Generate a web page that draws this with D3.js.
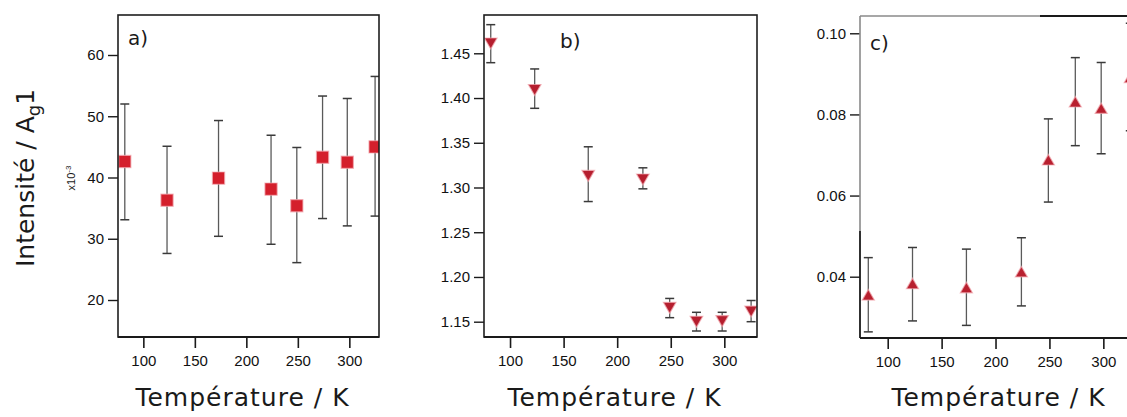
<!DOCTYPE html>
<html>
<head>
<meta charset="utf-8">
<script src="https://cdn.jsdelivr.net/npm/d3@7"></script>
<style>
  html, body { margin: 0; padding: 0; background: #fff; }
  svg { display: block; }
  .tick-label { font-family: "Liberation Sans Narrow", "Liberation Sans", Arial, sans-serif; font-size: 15px; fill: #111; }
  .axis-title { font-family: "DejaVu Sans", sans-serif; font-size: 25px; fill: #1a1a1a; }
  .panel-tag { font-family: "DejaVu Sans", sans-serif; font-size: 20px; fill: #1a1a1a; }
</style>
</head>
<body>
<svg id="chart" width="1127" height="417"></svg>
<script>
// Temperatures (K) shared by the three panels
const temperatures = [82, 123, 173, 224, 249, 274, 298, 325];
const xTicks = [100, 150, 200, 250, 300];

// a) intensity (x10^-3) with lower / upper error bounds
const intensityA = [42.6, 36.3, 39.9, 38.1, 35.4, 43.3, 42.5, 45.0];
const lowerA     = [33.1, 27.6, 30.4, 29.1, 26.1, 33.3, 32.1, 33.7];
const upperA     = [52.0, 45.1, 49.3, 46.9, 44.9, 53.3, 52.9, 56.5];
const yTicksA    = [20, 30, 40, 50, 60];

// b) ratio
const intensityB = [1.463, 1.411, 1.315, 1.311, 1.1675, 1.152, 1.1527, 1.1634];
const lowerB     = [1.4395, 1.3885, 1.2843, 1.2985, 1.1545, 1.1396, 1.1396, 1.150];
const upperB     = [1.482, 1.4325, 1.3455, 1.322, 1.176, 1.1605, 1.1605, 1.1737];
const yTicksB    = [1.15, 1.20, 1.25, 1.30, 1.35, 1.40, 1.45];

// c) ratio
const intensityC = [0.0351, 0.0379, 0.0369, 0.0408, 0.0684, 0.0827, 0.0811, 0.0887];
const lowerC     = [0.0264, 0.0291, 0.0280, 0.0328, 0.0584, 0.0723, 0.0703, 0.0760];
const upperC     = [0.0447, 0.0472, 0.0468, 0.0496, 0.0789, 0.0940, 0.0928, 0.1025];
const yTicksC    = [0.04, 0.06, 0.08, 0.10];

const svg = d3.select("#chart");

const panels = [
  { id: "a", tag: "a)", tagX: 128, tagY: 45,
    box: { left: 118, top: 15, right: 379, bottom: 337 },
    xDomain: [75.4, 328.8], yDomain: [13.96, 66.53],
    values: intensityA, lower: lowerA, upper: upperA, yTicks: yTicksA,
    fmt: d3.format("d"), symbol: d3.symbolSquare, size: 150, rotate: 0,
    fill: "#d41f2c" },
  { id: "b", tag: "b)", tagX: 560, tagY: 48,
    box: { left: 484, top: 15, right: 757, bottom: 337 },
    xDomain: [75.7, 330.5], yDomain: [1.1329, 1.4928],
    values: intensityB, lower: lowerB, upper: upperB, yTicks: yTicksB,
    fmt: d3.format(".2f"), symbol: d3.symbolTriangle, size: 70, rotate: 180,
    fill: "#b51e2e" },
  { id: "c", tag: "c)", tagX: 870, tagY: 50,
    box: { left: 860, top: 16, right: 1140, bottom: 338 },
    xDomain: [74.3, 334.0], yDomain: [0.02489, 0.10426],
    values: intensityC, lower: lowerC, upper: upperC, yTicks: yTicksC,
    fmt: d3.format(".2f"), symbol: d3.symbolTriangle, size: 64, rotate: 0,
    fill: "#b8202f" }
];

panels.forEach(p => {
  const b = p.box;
  const x = d3.scaleLinear().domain(p.xDomain).range([b.left, b.right]);
  const y = d3.scaleLinear().domain(p.yDomain).range([b.bottom, b.top]);
  const g = svg.append("g").attr("class", "panel-" + p.id);

  // clip marks to the plot frame
  svg.append("clipPath").attr("id", "clip-" + p.id)
    .append("rect")
    .attr("x", b.left).attr("y", b.top)
    .attr("width", b.right - b.left).attr("height", b.bottom - b.top);

  // y axis: outward ticks with labels
  const yAxis = d3.axisLeft(y).tickValues(p.yTicks).tickFormat(p.fmt)
    .tickSize(10).tickPadding(4);
  const ya = g.append("g").attr("transform", `translate(${b.left},0)`).call(yAxis);
  ya.select(".domain").remove();
  ya.selectAll(".tick line").attr("stroke", "#1a1a1a").attr("stroke-width", 1.4);
  ya.selectAll(".tick text").attr("class", "tick-label").attr("font-family", null).attr("font-size", null);

  // x axis
  const xAxis = d3.axisBottom(x).tickValues(xTicks).tickFormat(d3.format("d"))
    .tickSize(11).tickPadding(7);
  const xa = g.append("g").attr("transform", `translate(0,${b.bottom})`).call(xAxis);
  xa.select(".domain").remove();
  xa.selectAll(".tick line").attr("stroke", "#1a1a1a").attr("stroke-width", 1.6);
  xa.selectAll(".tick text").attr("class", "tick-label").attr("font-family", null).attr("font-size", null);

  // error bars
  const marks = g.append("g").attr("clip-path", `url(#clip-${p.id})`);
  const bars = marks.selectAll("g.err").data(temperatures).join("g").attr("class", "err");
  bars.append("line")
    .attr("x1", d => x(d)).attr("x2", d => x(d))
    .attr("y1", (d, i) => y(p.lower[i])).attr("y2", (d, i) => y(p.upper[i]))
    .attr("stroke", "#5a5a5a").attr("stroke-width", 1.3);
  [p.lower, p.upper].forEach(arr => {
    bars.append("line")
      .attr("x1", d => x(d) - 4.5).attr("x2", d => x(d) + 4.5)
      .attr("y1", (d, i) => y(arr[i])).attr("y2", (d, i) => y(arr[i]))
      .attr("stroke", "#3a3a3a").attr("stroke-width", 1.5);
  });

  // markers
  marks.selectAll("path.pt").data(temperatures).join("path").attr("class", "pt")
    .attr("d", d3.symbol().type(p.symbol).size(p.size))
    .attr("transform", (d, i) => `translate(${x(d)},${y(p.values[i])}) rotate(${p.rotate})`)
    .attr("fill", p.fill)
    .attr("stroke", "#f2a9b0").attr("stroke-width", 1.2).attr("stroke-opacity", 0.7);

  // frame
  const frame = g.append("g").attr("fill", "none");
  if (p.id === "c") {
    frame.append("line").attr("x1", b.left).attr("x2", 1040).attr("y1", b.top).attr("y2", b.top)
      .attr("stroke", "#8a8a8a").attr("stroke-width", 1.6);
    frame.append("line").attr("x1", 1040).attr("x2", b.right).attr("y1", b.top).attr("y2", b.top)
      .attr("stroke", "#1a1a1a").attr("stroke-width", 1.8);
    frame.append("line").attr("x1", b.left).attr("x2", b.left).attr("y1", b.top).attr("y2", 231)
      .attr("stroke", "#8a8a8a").attr("stroke-width", 1.6);
    frame.append("line").attr("x1", b.left).attr("x2", b.left).attr("y1", 231).attr("y2", b.bottom)
      .attr("stroke", "#1a1a1a").attr("stroke-width", 1.8);
    frame.append("line").attr("x1", b.left).attr("x2", b.right).attr("y1", b.bottom).attr("y2", b.bottom)
      .attr("stroke", "#1a1a1a").attr("stroke-width", 2.2);
  } else {
    frame.append("rect")
      .attr("x", b.left).attr("y", b.top)
      .attr("width", b.right - b.left).attr("height", b.bottom - b.top)
      .attr("stroke", "#1e1e1e").attr("stroke-width", 1.6);
    frame.append("line").attr("x1", b.left).attr("x2", b.right).attr("y1", b.bottom).attr("y2", b.bottom)
      .attr("stroke", "#1a1a1a").attr("stroke-width", 2.2);
  }

  // panel tag
  g.append("text").attr("class", "panel-tag").attr("x", p.tagX).attr("y", p.tagY).text(p.tag);

  // x axis title
  g.append("text").attr("class", "axis-title")
    .attr("x", (b.left + Math.min(b.right, 1127)) / 2 + (p.id === "c" ? 5 : -6))
    .attr("y", 406).attr("text-anchor", "middle")
    .attr("letter-spacing", "1px")
    .text("Température / K");
});

// y axis title for panel a, with subscript
const yTitle = svg.append("text").attr("class", "axis-title")
  .attr("font-size", "26px")
  .attr("transform", "translate(34,178) rotate(-90)")
  .attr("text-anchor", "middle");
yTitle.append("tspan").text("Intensité / A");
yTitle.append("tspan").attr("font-size", "18px").attr("dy", "6").text("g");
yTitle.append("tspan").attr("dy", "-6").text("1");

// multiplier label
const mult = svg.append("text")
  .attr("transform", "translate(75,178) rotate(-90)")
  .attr("text-anchor", "middle")
  .attr("font-family", "Liberation Sans, Arial, sans-serif")
  .attr("font-size", "11px").attr("fill", "#1a1a1a");
mult.append("tspan").text("x10");
mult.append("tspan").attr("font-size", "8px").attr("dy", "-4").text("-3");
</script>
</body>
</html>
